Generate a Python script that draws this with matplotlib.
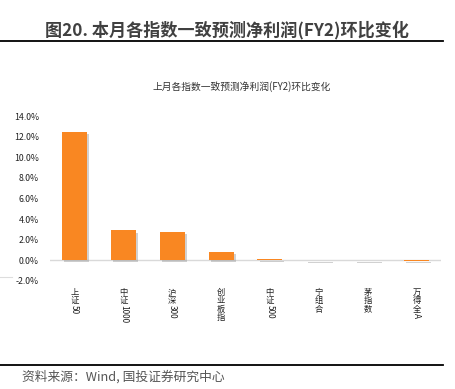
import matplotlib
matplotlib.use("Agg")
import matplotlib.pyplot as plt
import matplotlib.patheffects as pe
from matplotlib.lines import Line2D

plt.rcParams["font.family"] = ["Noto Sans CJK SC", "DejaVu Sans"]

# =====================================================
# DATA
# =====================================================

CATEGORIES = ["上证50", "中证1000", "沪深300", "创业板指", "中证500", "宁组合", "茅指数", "万得全A"]
VALUES = [12.45, 2.9, 2.75, 0.85, 0.18, -0.01, -0.01, -0.1]
Y_TICKS = [-2, 0, 2, 4, 6, 8, 10, 12, 14]

FIG_TITLE = "图20. 本月各指数一致预测净利润(FY2)环比变化"
CHART_TITLE = "上月各指数一致预测净利润(FY2)环比变化"
SOURCE = "资料来源：Wind, 国投证券研究中心"

# =====================================================
# STYLE
# =====================================================

W, H = 455, 389
BAR_COLOR = "#F98722"
TEXT_COLOR = "#404040"
TICK_SIZE = 6.3
LABEL_SIZE = 6.0


def fx(px):
    return px / W


def fy(py):
    return 1 - py / H


def vertical_label(ax, x, text, size):
    # CJK-tegn står oppreist, tall/latin roteres (som Excel vertikal tekst)
    runs = []
    buf = ""
    for ch in text:
        if ord(ch) < 128:
            buf += ch
        else:
            if buf:
                runs.append(buf)
                buf = ""
            runs.append(ch)
    if buf:
        runs.append(buf)

    y = -5.0
    for r in runs:
        if ord(r[0]) < 128:
            ax.annotate(r, xy=(x, 0), xycoords=("data", "axes fraction"),
                        xytext=(0, y), textcoords="offset points",
                        rotation=-90, ha="center", va="top",
                        fontsize=size, color="#222222", annotation_clip=False)
            y -= len(r) * size * 0.58
        else:
            ax.annotate(r, xy=(x, 0), xycoords=("data", "axes fraction"),
                        xytext=(0, y), textcoords="offset points",
                        ha="center", va="top",
                        fontsize=size, color="#222222", annotation_clip=False)
            y -= size * 1.0


fig = plt.figure(figsize=(W / 100, H / 100), dpi=100)
ax = fig.add_axes([fx(50), fy(281), fx(441) - fx(50), fy(116) - fy(281)])

x = list(range(len(CATEGORIES)))
bars = ax.bar(x, VALUES, width=0.51, color=BAR_COLOR, zorder=3)
for b in bars:
    b.set_path_effects([
        pe.SimplePatchShadow(offset=(1.5, -1.5), shadow_rgbFace="#999999", alpha=0.45),
        pe.Normal(),
    ])

ax.axhline(0, color="#d9d9d9", linewidth=1.0, zorder=2)

ax.set_xlim(-0.5, len(CATEGORIES) - 0.5)
ax.set_ylim(-2, 14)
ax.set_yticks(Y_TICKS)
ax.set_yticklabels([f"{v:.1f}%" for v in Y_TICKS], fontsize=TICK_SIZE, color="#222222")
ax.tick_params(axis="y", length=0, pad=8)
ax.set_xticks([])
for s in ax.spines.values():
    s.set_visible(False)

for xi, cat in zip(x, CATEGORIES):
    vertical_label(ax, xi, cat, LABEL_SIZE)

# titler og linjer
fig.text(fx(227), fy(30), FIG_TITLE, ha="center", va="center",
         fontsize=12.3, fontweight="bold", color=TEXT_COLOR)
fig.text(fx(242), fy(87), CHART_TITLE, ha="center", va="center",
         fontsize=7, color="#333333")

fig.add_artist(Line2D([0, fx(443)], [fy(41), fy(41)], color="black", linewidth=1.3))
fig.add_artist(Line2D([0, fx(443)], [fy(365), fy(365)], color="black", linewidth=1.3))
fig.add_artist(Line2D([0, fx(12)], [fy(277), fy(277)], color="#dddddd", linewidth=0.8))

fig.text(fx(22), fy(377), SOURCE, ha="left", va="center",
         fontsize=9.2, style="italic", color="#555555")

fig.savefig("out.png", dpi=100)
